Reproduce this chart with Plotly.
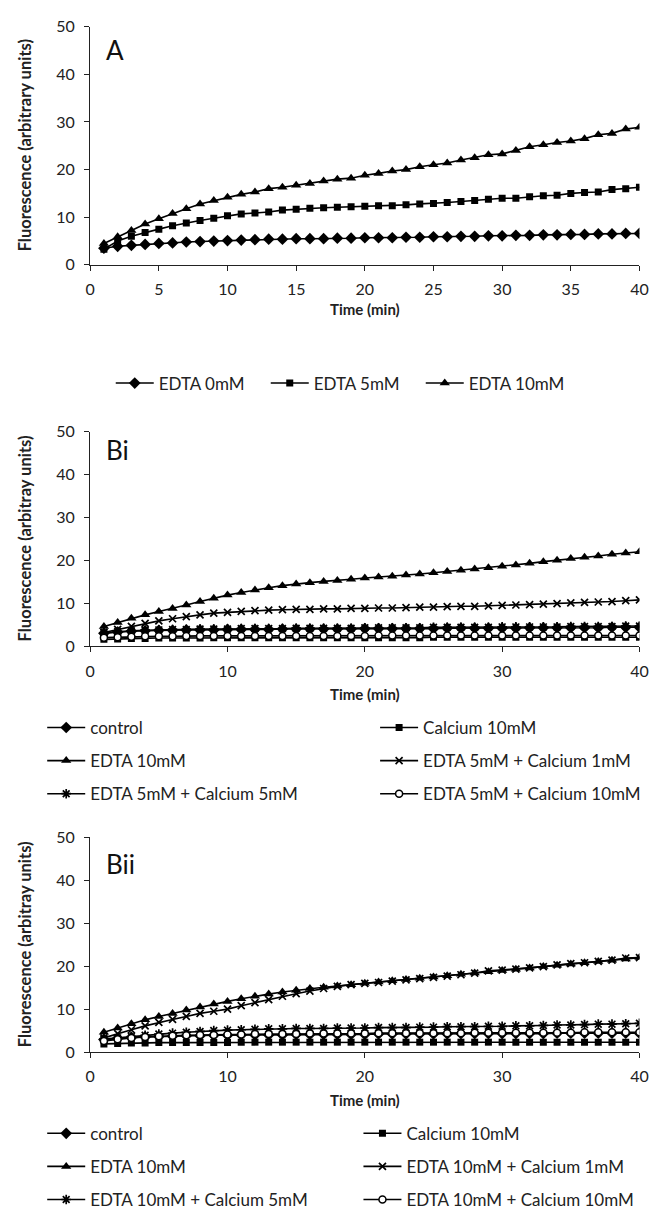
import plotly.graph_objects as go

W, H = 670, 1218
time_min = list(range(1, 41))

a_names = ["EDTA 0mM", "EDTA 5mM", "EDTA 10mM"]
a_edta0 = [3.5, 3.9, 4.1, 4.3, 4.5, 4.6, 4.8, 4.9, 5.0, 5.1, 5.2, 5.3, 5.4, 5.4, 5.5, 5.5, 5.5, 5.6, 5.6, 5.7,
           5.7, 5.7, 5.8, 5.8, 5.9, 5.9, 6.0, 6.0, 6.1, 6.1, 6.2, 6.2, 6.3, 6.3, 6.4, 6.4, 6.5, 6.5, 6.6, 6.6]
a_edta5 = [3.3, 5.0, 6.0, 6.8, 7.5, 8.2, 8.8, 9.3, 9.8, 10.3, 10.7, 10.9, 11.1, 11.5, 11.7, 11.9, 12.0, 12.1, 12.2, 12.3,
           12.4, 12.4, 12.6, 12.8, 12.9, 13.1, 13.3, 13.5, 13.8, 14.0, 14.0, 14.3, 14.5, 14.6, 15.0, 15.2, 15.3, 15.8, 16.0, 16.3]
a_edta10 = [4.5, 5.9, 7.2, 8.6, 9.7, 10.8, 11.8, 12.8, 13.5, 14.2, 14.8, 15.3, 16.0, 16.3, 16.7, 17.1, 17.6, 18.0, 18.2, 18.8,
            19.2, 19.7, 20.0, 20.6, 21.0, 21.4, 22.0, 22.5, 23.1, 23.3, 24.0, 24.8, 25.2, 25.7, 26.0, 26.5, 27.3, 27.6, 28.5, 28.9]

bi_names = ["control", "Calcium 10mM", "EDTA 10mM", "EDTA 5mM + Calcium 1mM",
            "EDTA 5mM + Calcium 5mM", "EDTA 5mM + Calcium 10mM"]
bi_control = [3.0, 3.3, 3.5, 3.6, 3.7, 3.7, 3.8, 3.8, 3.8, 3.9, 3.9, 3.9, 3.9, 4.0, 4.0, 4.0, 4.0, 4.0, 4.0, 4.1,
              4.1, 4.1, 4.1, 4.1, 4.1, 4.2, 4.2, 4.2, 4.2, 4.2, 4.2, 4.3, 4.3, 4.3, 4.3, 4.3, 4.3, 4.4, 4.4, 4.4]
bi_ca10 = [1.6, 1.7, 1.8, 1.8, 1.9, 1.9, 1.9, 1.9, 2.0, 2.0, 2.0, 2.0, 2.0, 2.0, 2.0, 2.0, 2.0, 2.0, 2.0, 2.0,
           2.0, 2.0, 2.0, 2.0, 2.1, 2.1, 2.1, 2.1, 2.1, 2.1, 2.1, 2.1, 2.1, 2.1, 2.1, 2.1, 2.1, 2.1, 2.1, 2.1]
bi_edta10 = [4.6, 5.5, 6.5, 7.3, 8.1, 8.8, 9.6, 10.4, 11.2, 11.9, 12.5, 13.1, 13.6, 14.1, 14.5, 14.8, 15.1, 15.3, 15.6, 15.9,
             16.1, 16.3, 16.6, 16.8, 17.1, 17.4, 17.7, 18.0, 18.3, 18.6, 18.9, 19.3, 19.7, 20.0, 20.4, 20.7, 21.0, 21.4, 21.7, 22.0]
bi_e5ca1 = [3.2, 3.9, 4.6, 5.3, 5.9, 6.4, 6.9, 7.3, 7.7, 7.9, 8.1, 8.3, 8.4, 8.5, 8.6, 8.6, 8.7, 8.7, 8.8, 8.8,
            8.9, 8.9, 9.0, 9.1, 9.1, 9.2, 9.3, 9.3, 9.4, 9.5, 9.6, 9.7, 9.8, 9.9, 10.1, 10.2, 10.3, 10.4, 10.6, 10.8]
bi_e5ca5 = [3.1, 3.4, 3.6, 3.7, 3.8, 3.9, 3.9, 4.0, 4.0, 4.0, 4.1, 4.1, 4.1, 4.1, 4.2, 4.2, 4.2, 4.2, 4.2, 4.3,
            4.3, 4.3, 4.3, 4.3, 4.4, 4.4, 4.4, 4.4, 4.4, 4.5, 4.5, 4.5, 4.5, 4.5, 4.6, 4.6, 4.6, 4.6, 4.7, 4.7]
bi_e5ca10 = [2.0, 2.1, 2.2, 2.3, 2.3, 2.3, 2.4, 2.4, 2.4, 2.4, 2.4, 2.4, 2.4, 2.4, 2.4, 2.4, 2.4, 2.4, 2.4, 2.4,
             2.5, 2.5, 2.5, 2.5, 2.5, 2.5, 2.5, 2.5, 2.5, 2.5, 2.5, 2.5, 2.5, 2.5, 2.5, 2.5, 2.5, 2.5, 2.5, 2.5]

bii_names = ["control", "Calcium 10mM", "EDTA 10mM", "EDTA 10mM + Calcium 1mM",
             "EDTA 10mM + Calcium 5mM", "EDTA 10mM + Calcium 10mM"]
bii_control = [2.9, 3.2, 3.4, 3.5, 3.6, 3.7, 3.8, 3.8, 3.9, 3.9, 4.0, 4.0, 4.0, 4.0, 4.1, 4.1, 4.1, 4.1, 4.1, 4.1,
               4.2, 4.2, 4.2, 4.2, 4.2, 4.2, 4.3, 4.3, 4.3, 4.3, 4.3, 4.3, 4.3, 4.4, 4.4, 4.4, 4.4, 4.4, 4.4, 4.4]
bii_ca10 = [1.9, 2.0, 2.1, 2.1, 2.2, 2.2, 2.2, 2.2, 2.2, 2.2, 2.3, 2.3, 2.3, 2.3, 2.3, 2.3, 2.3, 2.3, 2.3, 2.3,
            2.3, 2.3, 2.3, 2.3, 2.3, 2.3, 2.3, 2.3, 2.3, 2.3, 2.3, 2.3, 2.3, 2.3, 2.3, 2.3, 2.3, 2.3, 2.3, 2.3]
bii_edta10 = [4.6, 5.6, 6.6, 7.5, 8.3, 9.0, 9.8, 10.5, 11.2, 11.8, 12.4, 13.0, 13.5, 14.0, 14.4, 14.8, 15.1, 15.4, 15.7, 16.0,
              16.3, 16.6, 16.9, 17.2, 17.5, 17.8, 18.1, 18.4, 18.7, 19.0, 19.3, 19.6, 19.9, 20.2, 20.5, 20.8, 21.1, 21.4, 21.7, 22.0]
bii_e10ca1 = [3.3, 4.3, 5.2, 6.1, 6.9, 7.6, 8.3, 9.0, 9.5, 10.0, 10.8, 11.5, 12.2, 13.0, 13.6, 14.2, 14.8, 15.3, 15.7, 16.0,
              16.2, 16.5, 16.8, 17.1, 17.4, 17.7, 18.0, 18.4, 18.9, 19.1, 19.3, 19.6, 19.9, 20.3, 20.6, 20.8, 21.1, 21.4, 21.9, 22.0]
bii_e10ca5 = [3.0, 3.3, 3.6, 3.9, 4.2, 4.4, 4.6, 4.8, 5.0, 5.1, 5.2, 5.3, 5.4, 5.4, 5.5, 5.5, 5.5, 5.6, 5.6, 5.6,
              5.7, 5.7, 5.7, 5.8, 5.8, 5.9, 5.9, 5.9, 6.0, 6.0, 6.1, 6.1, 6.2, 6.3, 6.3, 6.4, 6.5, 6.5, 6.6, 6.7]
bii_e10ca10 = [2.6, 3.0, 3.3, 3.5, 3.7, 3.8, 3.9, 4.0, 4.0, 4.1, 4.1, 4.2, 4.2, 4.2, 4.2, 4.3, 4.3, 4.3, 4.3, 4.3,
               4.4, 4.4, 4.4, 4.4, 4.4, 4.4, 4.4, 4.5, 4.5, 4.5, 4.5, 4.5, 4.5, 4.5, 4.5, 4.6, 4.6, 4.6, 4.6, 4.6]

panel_labels = ["A", "Bi", "Bii"]
x_title = "Time (min)"
y_titles = ["Fluorescence (arbitrary units)", "Fluorescence (arbitray units)", "Fluorescence (arbitray units)"]

FONT = "Lato, 'DejaVu Sans', sans-serif"
BLACK = "#000000"
GREY = "#222222"

def px_x(p):
    return p / W

def px_y(p):
    return 1 - p / H

STY = {
    "diamond": dict(symbol="diamond", size=9, color=BLACK),
    "square": dict(symbol="square", size=7, color=BLACK),
    "triangle": dict(symbol="triangle-up", size=9, color=BLACK),
    "x": dict(symbol="x-thin", size=7, color=BLACK, line=dict(width=1.7, color=BLACK)),
    "star": dict(symbol="asterisk", size=8, color=BLACK, line=dict(width=1.7, color=BLACK)),
    "circle": dict(symbol="circle", size=7, color="white", line=dict(width=1.5, color=BLACK)),
}

fig = go.Figure()

def add(y, name, style, axis_n, legend_name, group):
    xa = "x" if axis_n == 1 else f"x{axis_n}"
    ya = "y" if axis_n == 1 else f"y{axis_n}"
    fig.add_trace(go.Scatter(
        x=time_min, y=y, name=name, mode="lines+markers",
        line=dict(color=BLACK, width=1.6),
        marker=STY[style],
        xaxis=xa, yaxis=ya, legend=legend_name, legendgroup=group,
    ))

for ys, nm, st in zip([a_edta0, a_edta5, a_edta10], a_names, ["diamond", "square", "triangle"]):
    add(ys, nm, st, 1, "legend", "a_" + nm)

bi_series = [bi_control, bi_ca10, bi_edta10, bi_e5ca1, bi_e5ca5, bi_e5ca10]
bii_series = [bii_control, bii_ca10, bii_edta10, bii_e10ca1, bii_e10ca5, bii_e10ca10]
styles = ["diamond", "square", "triangle", "x", "star", "circle"]
for i, (ys, nm, st) in enumerate(zip(bi_series, bi_names, styles)):
    add(ys, nm, st, 2, "legend2" if i % 2 == 0 else "legend3", f"bi{i}")
for i, (ys, nm, st) in enumerate(zip(bii_series, bii_names, styles)):
    add(ys, nm, st, 3, "legend4" if i % 2 == 0 else "legend5", f"bii{i}")

x_dom = [px_x(87), px_x(648)]
panels = [(260, 17, 5), (649, 430, 10), (1063, 844, 10)]

axis_common = dict(showline=True, linecolor=GREY, linewidth=1.2, ticks="outside", ticklen=5,
                   tickcolor=GREY, tickwidth=1.2, showgrid=False, zeroline=False,
                   tickfont=dict(family=FONT, size=16, color=GREY))

layout = dict(
    width=W, height=H, margin=dict(l=0, r=0, t=0, b=0),
    paper_bgcolor="white", plot_bgcolor="white",
    font=dict(family=FONT, color=GREY),
    annotations=[],
)

for k, (y0, y50, dt) in enumerate(panels):
    sfx = "" if k == 0 else str(k + 1)
    layout["xaxis" + sfx] = dict(axis_common, domain=x_dom, range=[0, 40], dtick=dt, tick0=0,
                                 anchor="y" + sfx, ticklabelstandoff=5)
    layout["yaxis" + sfx] = dict(axis_common, domain=[px_y(y0), px_y(y50)], range=[0, 50], dtick=10,
                                 anchor="x" + sfx, ticklabelstandoff=6)
    layout["annotations"].append(dict(text=panel_labels[k], x=px_x(101), y=px_y({0: 41, 1: 449, 2: 871}[k]),
                                      xref="paper", yref="paper", xanchor="left", yanchor="middle",
                                      showarrow=False, font=dict(family=FONT, size=26, color="#111")))
    layout["annotations"].append(dict(text="<b>" + y_titles[k] + "</b>", x=px_x(20), y=px_y((y0 + y50) / 2),
                                      xref="paper", yref="paper", xanchor="center", yanchor="middle",
                                      textangle=-90, showarrow=False,
                                      font=dict(family=FONT, size=16.5, color=GREY)))
    xt_y = {0: 305, 1: 698, 2: 1112}[k]
    layout["annotations"].append(dict(text="<b>" + x_title + "</b>", x=px_x(368), y=px_y(xt_y),
                                      xref="paper", yref="paper", xanchor="center", yanchor="middle",
                                      showarrow=False, font=dict(family=FONT, size=15, color=GREY)))

leg_font = dict(family=FONT, size=17, color=GREY)
layout["legend"] = dict(orientation="h", x=px_x(108), y=px_y(381), xanchor="left", yanchor="middle",
                        font=leg_font, itemwidth=38, entrywidth=102, entrywidthmode="pixels",
                        bgcolor="rgba(0,0,0,0)", traceorder="normal")
for name, xp, ytop in [("legend2", 38, 714), ("legend3", 378, 714),
                       ("legend4", 38, 1128), ("legend5", 361, 1128)]:
    layout[name] = dict(orientation="v", x=px_x(xp), y=px_y(ytop), xanchor="left", yanchor="top",
                        font=leg_font, itemwidth=38, tracegroupgap=8, bgcolor="rgba(0,0,0,0)",
                        traceorder="grouped")

fig.update_layout(**layout)
fig.write_html("out.html")
